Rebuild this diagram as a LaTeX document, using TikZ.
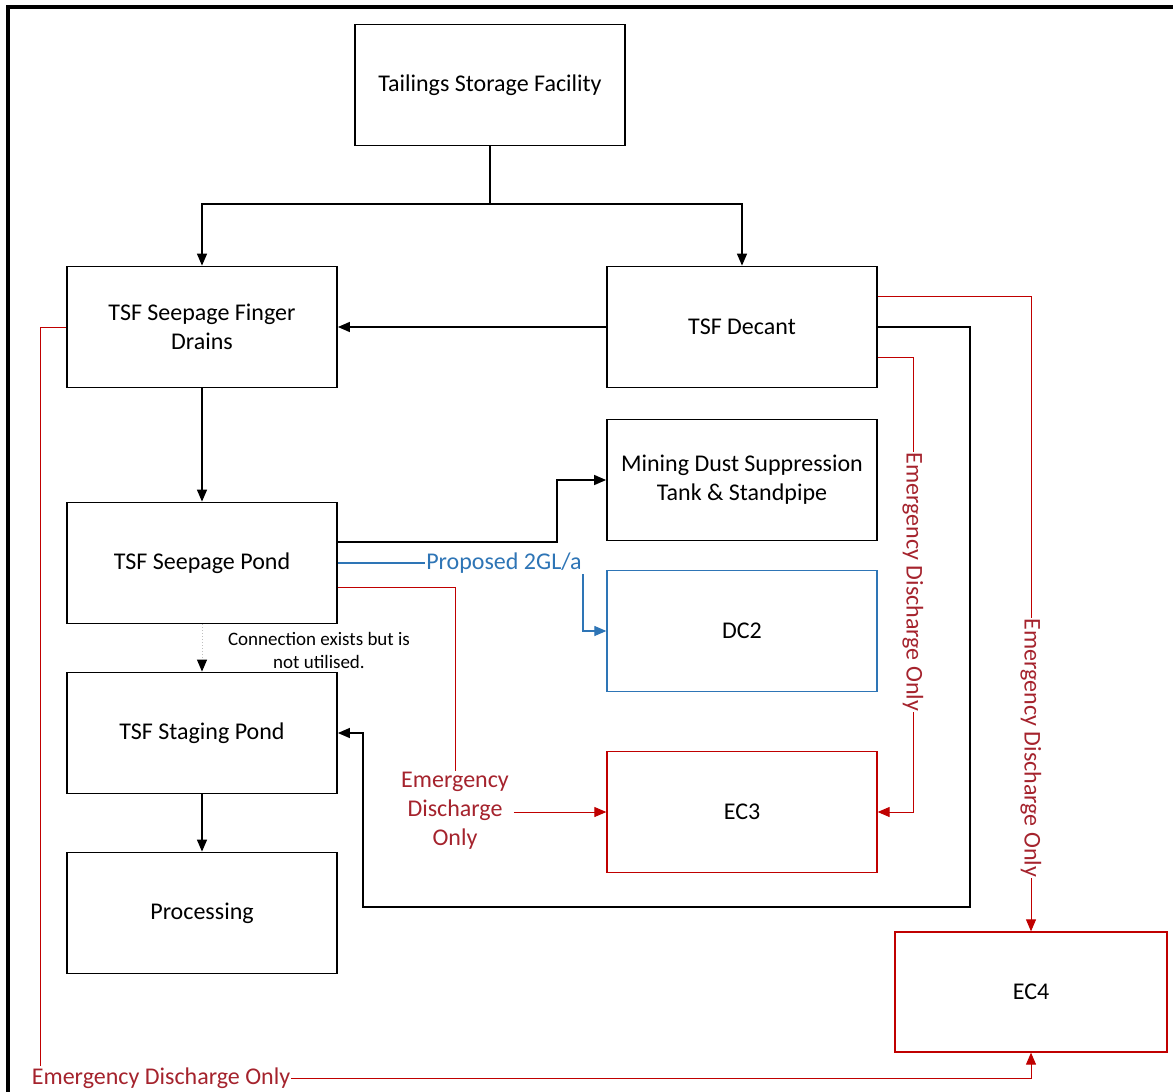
\documentclass[tikz,border=0pt]{standalone}
\usepackage{fontspec}
\setmainfont{Carlito}
\usetikzlibrary{arrows.meta}

\definecolor{edred}{RGB}{192,0,0}
\definecolor{edtext}{RGB}{165,35,45}
\definecolor{propblue}{RGB}{46,117,182}

\tikzset{
    unit/.style={draw, line width=1.8pt, minimum width=270pt, minimum height=121pt,
        align=center, font=\fontsize{24}{29}\selectfont},
    redunit/.style={unit, draw=edred, line width=1.3pt},
    blueunit/.style={unit, draw=propblue, line width=1.3pt},
    flow/.style={line width=1.4pt, ->},
    emerg/.style={draw=edred, line width=1pt},
    emlabel/.style={text=edtext, inner sep=1pt, align=center, font=\fontsize{24}{29}\selectfont},
}

\begin{document}
\begin{tikzpicture}[x=1pt, y=-1pt, >={Triangle[length=12pt,width=10pt]}]
            \useasboundingbox (0,0) rectangle (1173,1092);
            \fill[white] (0,0) rectangle (1173,1092);
            \draw[line width=3.2pt] (8,1100) -- (8,7) -- (1180,7);

            \node[unit] (tsf) at (490,85) {Tailings Storage Facility};
            \node[unit] (drains) at (202,327) {TSF Seepage Finger\\Drains};
            \node[unit] (decant) at (742,327) {TSF Decant};
            \node[unit] (dust) at (742,480) {Mining Dust Suppression\\Tank \& Standpipe};
            \node[unit] (pond) at (202,563) {TSF Seepage Pond};
            \node[blueunit] (dc2) at (742,631) {DC2};
            \node[unit] (staging) at (202,733) {TSF Staging Pond};
            \node[redunit] (ec3) at (742,812) {EC3};
            \node[unit] (processing) at (202,913) {Processing};
            \node[redunit, minimum width=272pt, minimum height=120pt] (ec4) at (1031,992) {EC4};

            % labels on the lines
            \node[inner sep=1pt, text=propblue, font=\fontsize{24}{29}\selectfont] (proposed) at (504,563) {Proposed 2GL/a};
            \node[align=center, font=\fontsize{19}{23}\selectfont] (unused) at (319,650) {Connection exists but is\\not utilised.};
            \node[emlabel] (emPond) at (455,811) {Emergency\\Discharge\\Only};
            \node[emlabel, rotate=-90] (emEC3) at (913,582) {Emergency Discharge Only};
            \node[emlabel, rotate=-90] (emEC4) at (1031,748) {Emergency Discharge Only};
            \node[emlabel] (emDrains) at (161,1078) {Emergency Discharge Only};

            \coordinate (split) at (490,204);
            \coordinate (loop) at (970,907);

            \draw[line width=1.4pt] (tsf.south) -- (split);
            \draw[flow] (split) -| (drains.north);
            \draw[flow] (split) -| (decant.north);
            \draw[flow] (decant.west) -- (drains.east);
            \draw[flow] (drains.south) -- (pond.north);
            \draw[line width=1pt, gray!50, dotted, -{Triangle[length=12pt,width=10pt,black]}] (pond.south) -- (staging.north);
            \draw[flow] (staging.south) -- (processing.north);
            \draw[flow] ([yshift=21pt]pond.east) -- (557,542) |- (dust.west);
            \draw[flow] (decant.east) -| (loop) -| (363,733) -- (staging.east);

            \draw[propblue, line width=1.2pt] (pond.east) -- (proposed.west);
            \draw[propblue, line width=1.2pt, ->] (proposed.south east) |- (dc2.west);

            \draw[emerg] ([yshift=-24pt]pond.east) -| (emPond.north);
            \draw[emerg, ->] ([xshift=4pt]emPond.east |- ec3.west) -- (ec3.west);
            \draw[emerg] ([yshift=-30pt]decant.east) -| (emEC3.west);
            \draw[emerg, ->] (emEC3.east) |- (ec3.east);
            \draw[emerg] ([yshift=31pt]decant.east) -| (emEC4.west);
            \draw[emerg, ->] (emEC4.east) -- (ec4.north);
            \draw[emerg] (drains.west) -| ([xshift=10pt]emDrains.north west);
            \draw[emerg, ->] (emDrains.east) -| (ec4.south);
\end{tikzpicture}
\end{document}
